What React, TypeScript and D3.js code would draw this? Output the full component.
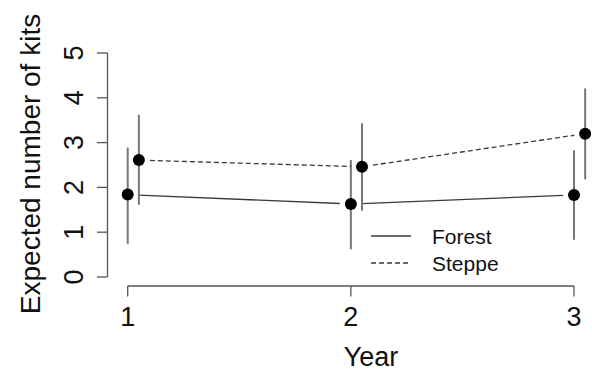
import React from 'react';
import * as d3 from 'd3';

// data
const years = [1, 2, 3];
const forestMean = [1.84, 1.63, 1.83];
const forestLower = [0.74, 0.62, 0.83];
const forestUpper = [2.89, 2.61, 2.83];
const steppeMean = [2.61, 2.46, 3.2];
const steppeLower = [1.61, 1.48, 2.18];
const steppeUpper = [3.62, 3.43, 4.21];
const steppeOffset = 0.05;
const yTicks = [0, 1, 2, 3, 4, 5];
const xTicks = [1, 2, 3];

const FONT = 'Liberation Sans, Arial, sans-serif';
const AXIS = '#555';
const BAR = '#777';
const LINE = '#3a3a3a';

const width = 592, height = 371;

const x = d3.scaleLinear().domain([1, 3]).range([127.7, 574]);
const y = d3.scaleLinear().domain([0, 5]).range([277, 53]);

// R type="b": segments stop short of each point
const gapSegments = (pts: [number, number][], gap: number) => {
  const segs: [number, number, number, number][] = [];
  for (let i = 0; i < pts.length - 1; i++) {
    const [x0, y0] = pts[i];
    const [x1, y1] = pts[i + 1];
    const len = Math.hypot(x1 - x0, y1 - y0);
    const ux = (x1 - x0) / len, uy = (y1 - y0) / len;
    segs.push([x0 + ux * gap, y0 + uy * gap, x1 - ux * gap, y1 - uy * gap]);
  }
  return segs;
};

const Series = ({ xs, mean, lo, hi, dash }: { xs: number[]; mean: number[]; lo: number[]; hi: number[]; dash?: string }) => {
  const pts = xs.map((v, i) => [x(v), y(mean[i])] as [number, number]);
  return (
    <g>
      {gapSegments(pts, 11).map((s, i) => (
        <line key={'l' + i} x1={s[0]} y1={s[1]} x2={s[2]} y2={s[3]} stroke={LINE} strokeWidth={1.3} strokeDasharray={dash} />
      ))}
      {xs.map((v, i) => (
        <line key={'e' + i} x1={x(v)} x2={x(v)} y1={y(lo[i])} y2={y(hi[i])} stroke={BAR} strokeWidth={2} />
      ))}
      {pts.map((p, i) => (
        <circle key={'p' + i} cx={p[0]} cy={p[1]} r={6} fill="#000" />
      ))}
    </g>
  );
};

export default function App() {
  const y0 = y(0), y5 = y(5);
  const axisY = 286;
  const axisX = 107.5;
  return (
    <svg width={width} height={height} style={{ position: 'absolute', left: 0, top: 0, background: '#fff' }} fontFamily={FONT}>
      {/* y axis */}
      <line x1={axisX} x2={axisX} y1={y5} y2={y0} stroke={AXIS} strokeWidth={1.3} />
      {yTicks.map(t => (
        <g key={t}>
          <line x1={axisX - 10.5} x2={axisX} y1={y(t)} y2={y(t)} stroke={AXIS} strokeWidth={1.3} />
          <text transform={`translate(83,${y(t)}) rotate(-90)`} textAnchor="middle" fontSize={27} fill="#111">{t}</text>
        </g>
      ))}
      <text transform={`translate(40,164) rotate(-90)`} textAnchor="middle" fontSize={28} fill="#111">Expected number of kits</text>

      {/* x axis */}
      <line x1={x(1)} x2={x(3)} y1={axisY} y2={axisY} stroke={AXIS} strokeWidth={1.3} />
      {xTicks.map(t => (
        <g key={t}>
          <line x1={x(t)} x2={x(t)} y1={axisY} y2={axisY + 10.5} stroke={AXIS} strokeWidth={1.3} />
          <text x={x(t)} y={326} textAnchor="middle" fontSize={27} fill="#111">{t}</text>
        </g>
      ))}
      <text x={371} y={366} textAnchor="middle" fontSize={27} fill="#111">Year</text>

      <Series xs={years} mean={forestMean} lo={forestLower} hi={forestUpper} />
      <Series xs={years.map(v => v + steppeOffset)} mean={steppeMean} lo={steppeLower} hi={steppeUpper} dash="5,3" />

      {/* legend */}
      <line x1={371} x2={411} y1={236} y2={236} stroke={LINE} strokeWidth={1.3} />
      <line x1={371} x2={411} y1={263} y2={263} stroke={LINE} strokeWidth={1.3} strokeDasharray="5,3" />
      <text x={432} y={243.5} fontSize={21} fill="#111">Forest</text>
      <text x={432} y={270.5} fontSize={21} fill="#111">Steppe</text>
    </svg>
  );
}
